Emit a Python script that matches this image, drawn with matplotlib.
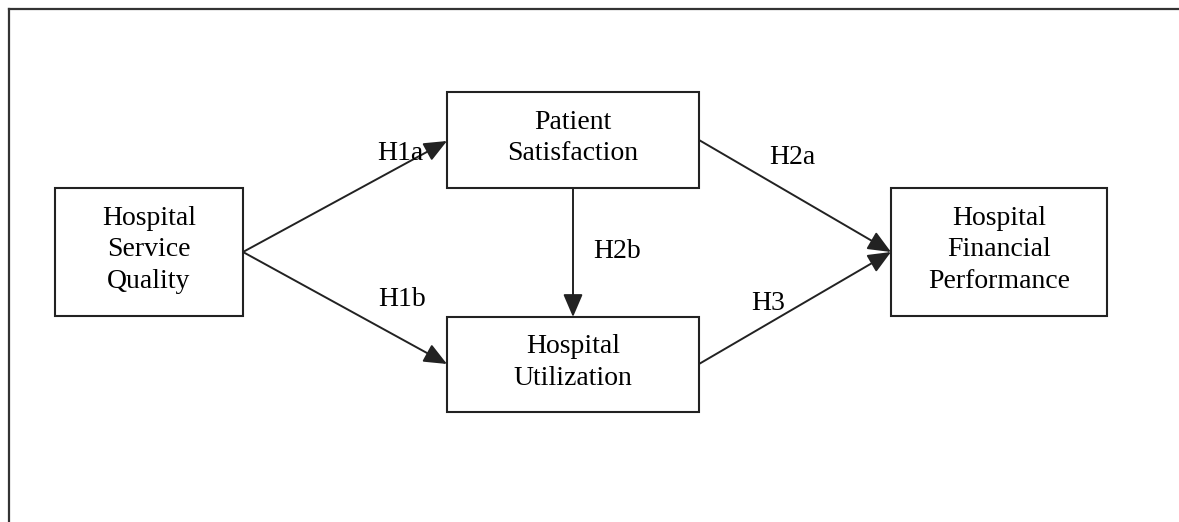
import matplotlib.pyplot as plt
from matplotlib.patches import Rectangle

# Knoten: Beschriftung und Box (links, oben, rechts, unten) in Pixeln
labels = ['Hospital\nService\nQuality', 'Patient\nSatisfaction',
          'Hospital\nUtilization', 'Hospital\nFinancial\nPerformance']
boxes = [(55, 188, 243, 316), (447, 92, 699, 188),
         (447, 317, 699, 412), (891, 188, 1107, 316)]

# Pfeile: Start, Ende, Beschriftung, Position der Beschriftung
arrows = [((243, 252), (447, 141), 'H1a', (400, 153)),
          ((243, 252), (447, 364), 'H1b', (402, 299)),
          ((573, 188), (573, 317), 'H2b', (617, 251)),
          ((699, 140), (891, 252), 'H2a', (792, 157)),
          ((699, 364), (891, 252), 'H3', (768, 303))]

col = '#222222'
plt.rcParams['font.family'] = ['Liberation Serif', 'DejaVu Serif']

fig = plt.figure(figsize=(11.79, 5.22), dpi=100)
ax = fig.add_axes([0, 0, 1, 1])
ax.set_xlim(0, 1179)
ax.set_ylim(522, 0)
ax.axis('off')

# Rahmen nur oben und links
ax.plot([8.5, 1179], [8.5, 8.5], color='#333333', lw=1.6)
ax.plot([8.5, 8.5], [8.5, 522], color='#333333', lw=1.6)

for lab, (x0, y0, x1, y1) in zip(labels, boxes):
    ax.add_patch(Rectangle((x0, y0), x1 - x0, y1 - y0, fill=False,
                           edgecolor=col, lw=1.5))
    ax.text((x0 + x1) / 2, (y0 + y1) / 2 - 2, lab, ha='center', va='center',
            fontsize=20, linespacing=1.32, color='black')

for start, end, lab, pos in arrows:
    ax.annotate('', xy=end, xytext=start,
                arrowprops=dict(arrowstyle='-|>,head_length=0.7,head_width=0.3',
                                color=col, lw=1.4, mutation_scale=20,
                                shrinkA=0, shrinkB=0))
    ax.text(pos[0], pos[1], lab, ha='center', va='center',
            fontsize=20, color='black')

fig.savefig('out.png', dpi=100)
